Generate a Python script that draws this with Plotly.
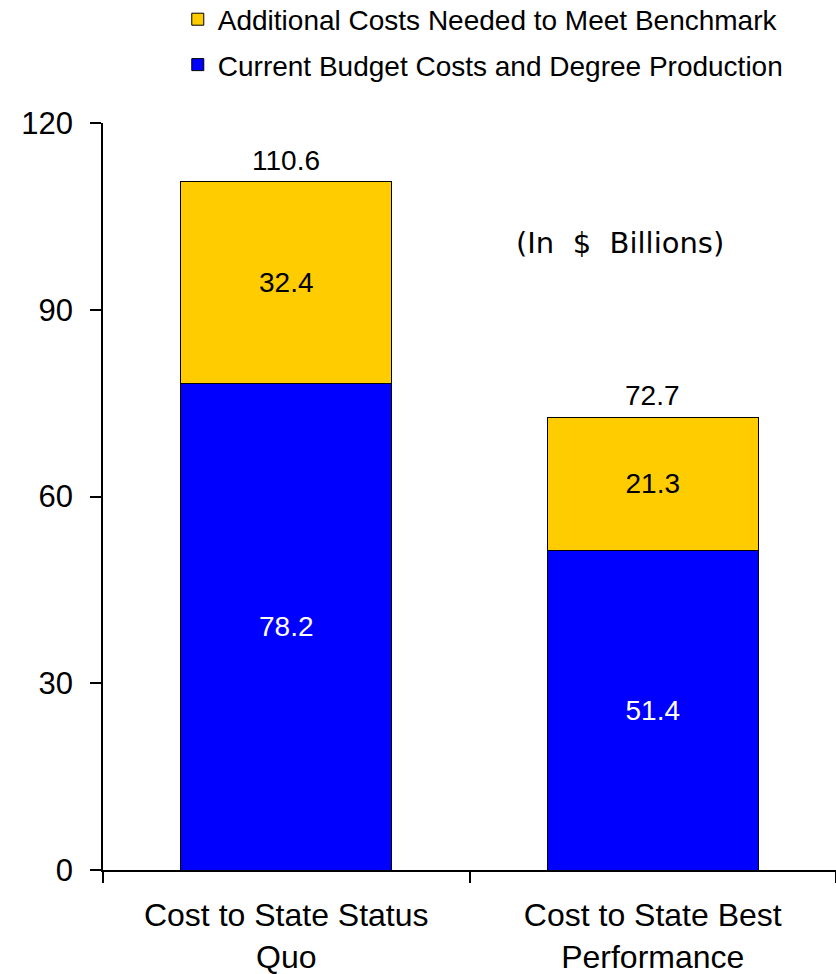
import plotly.graph_objects as go

# Cost components per scenario (in $ billions)
categories = ["Cost to State Status<br>Quo", "Cost to State Best<br>Performance"]
current_costs = [78.2, 51.4]
additional_costs = [32.4, 21.3]
totals = [110.6, 72.7]
y_ticks = [0, 30, 60, 90, 120]

FONT = "Arial, Liberation Sans, sans-serif"

fig = go.Figure()

fig.add_trace(go.Bar(
    name="Current Budget Costs and Degree Production",
    x=categories, y=current_costs,
    marker=dict(color="#0000FF", line=dict(color="black", width=1)),
    text=[f"{v:.1f}" for v in current_costs],
    textposition="inside", insidetextanchor="middle",
    textfont=dict(family=FONT, size=28, color="white"),
    legendgroup="current", legendrank=2,
))
fig.add_trace(go.Bar(
    name="Additional Costs Needed to Meet Benchmark",
    x=categories, y=additional_costs,
    marker=dict(color="#FFCC00", line=dict(color="black", width=1)),
    text=[f"{v:.1f}" for v in additional_costs],
    textposition="inside", insidetextanchor="middle",
    textfont=dict(family=FONT, size=28, color="black"),
    legendgroup="additional", legendrank=1,
))

# Totals above each stacked bar
for cat, tot in zip(categories, totals):
    fig.add_annotation(
        x=cat, y=tot, text=f"{tot:.1f}", showarrow=False,
        yanchor="bottom", yshift=4,
        font=dict(family=FONT, size=28, color="black"),
    )

fig.add_annotation(
    xref="paper", yref="paper", x=0.706, y=0.839,
    xanchor="center", yanchor="middle",
    text="(In&nbsp;&nbsp;$&nbsp;&nbsp;Billions)", showarrow=False,
    font=dict(family="DejaVu Sans, Verdana, sans-serif", size=29, color="black"),
)

fig.update_layout(
    width=836, height=974,
    barmode="stack", bargap=0.425,
    plot_bgcolor="white", paper_bgcolor="white",
    margin=dict(l=103, r=0, t=123, b=104, autoexpand=False),
    font=dict(family=FONT, color="black"),
    showlegend=True,
    legend=dict(
        traceorder="grouped", tracegroupgap=6,
        x=0.102, xanchor="left", y=1.172, yanchor="top",
        font=dict(family=FONT, size=28, color="black"),
        bgcolor="rgba(0,0,0,0)",
    ),
)

fig.update_xaxes(
    type="category", tickson="boundaries", ticks="outside", ticklen=11,
    tickwidth=1.5, tickcolor="black", automargin=False,
    showline=True, linecolor="black", linewidth=1.5,
    showgrid=False, ticklabelstandoff=16,
    tickfont=dict(family=FONT, size=32, color="black"),
)
fig.update_yaxes(
    range=[0, 120], tickvals=y_ticks, ticks="outside", ticklen=11,
    tickwidth=1.5, tickcolor="black", automargin=False,
    showline=True, linecolor="black", linewidth=1.5,
    showgrid=False, zeroline=False, ticklabelstandoff=11,
    tickfont=dict(family=FONT, size=31, color="black"),
)

fig.write_html("out.html")
